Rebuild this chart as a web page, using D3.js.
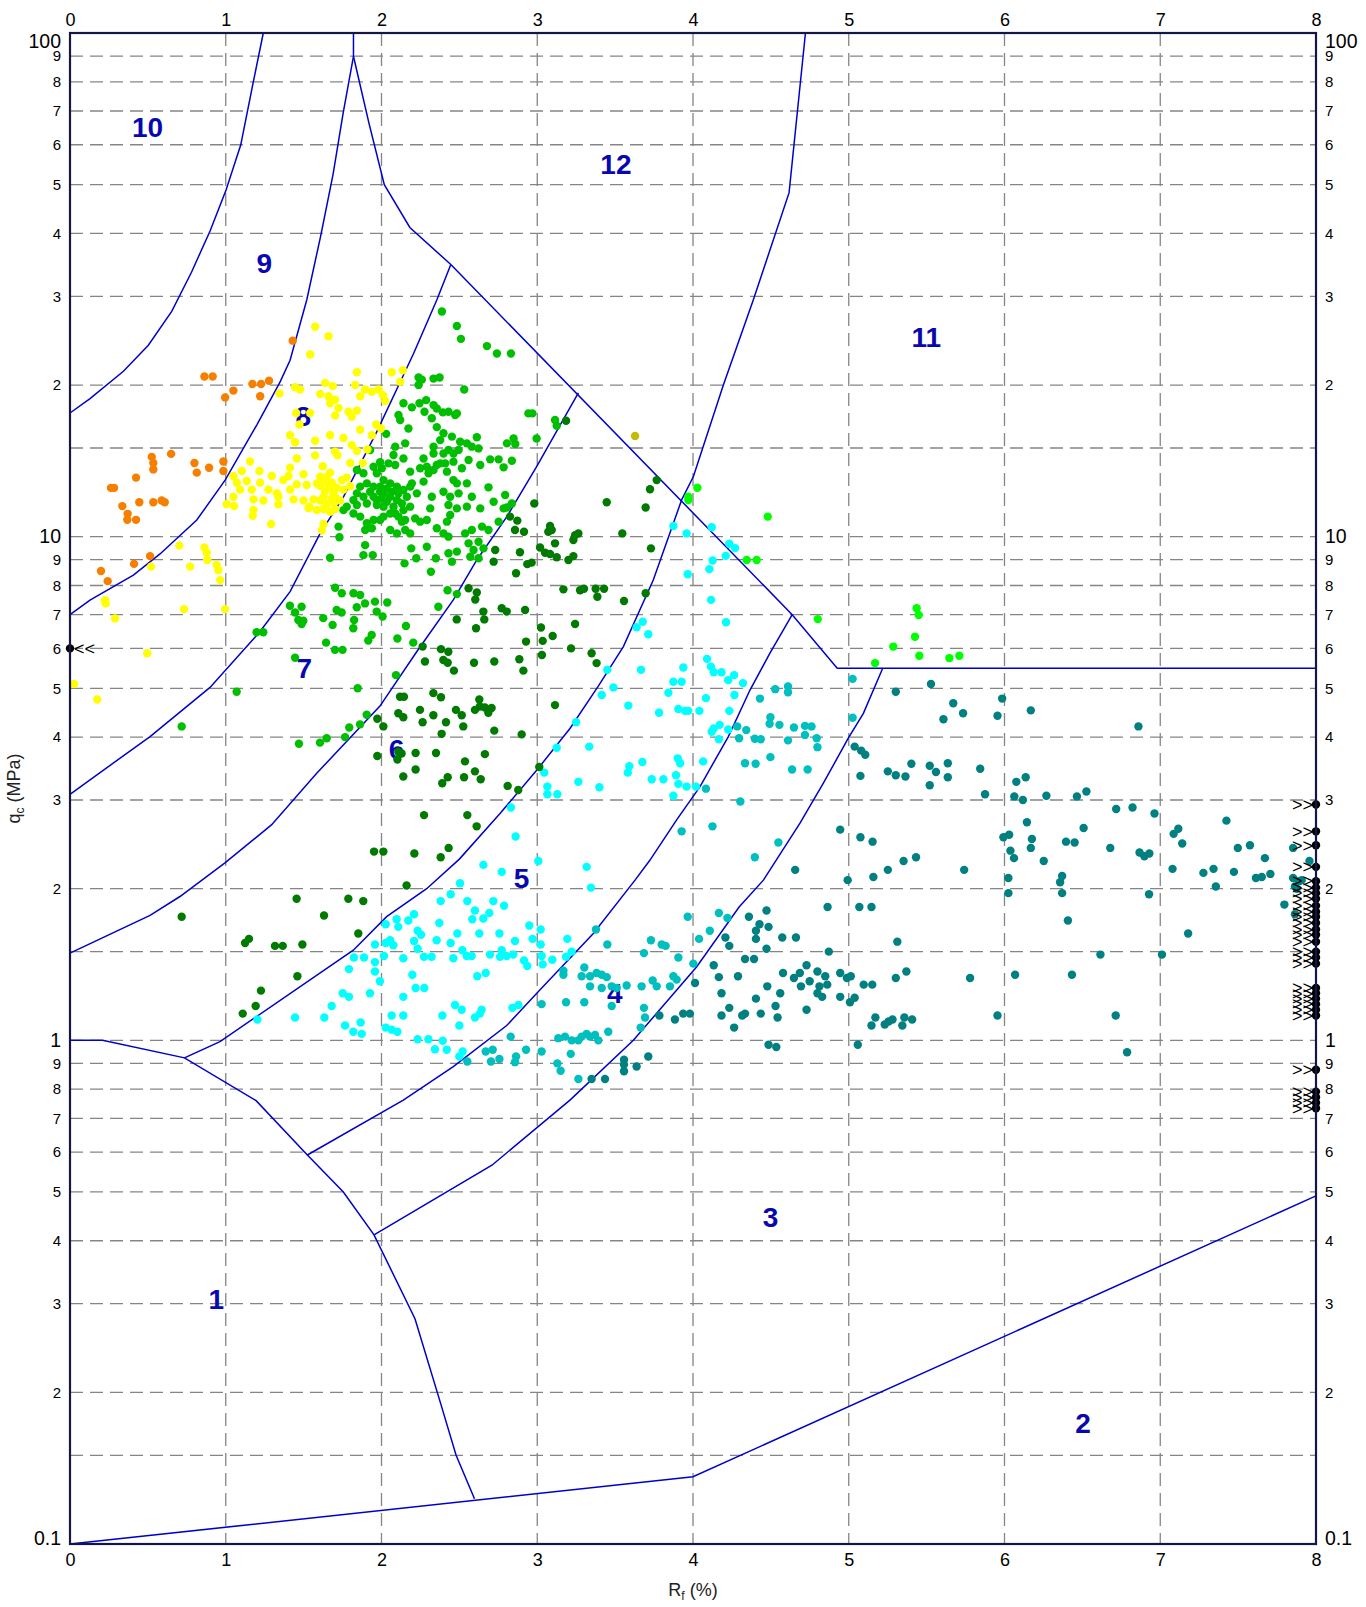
<!DOCTYPE html>
<html>
<head>
<meta charset="utf-8">
<script src="https://cdn.jsdelivr.net/npm/d3@7"></script>
<style>
  body { margin: 0; background: #fff; }
  svg { display: block; }
  text { font-family: "Liberation Sans", Arial, sans-serif; }
</style>
</head>
<body>
<svg id="chart" width="1366" height="1607"></svg>
<script>
// ---- axes ----
const rfTicks = [0, 1, 2, 3, 4, 5, 6, 7, 8];
const rfGrid = [1, 2, 3, 4, 5, 6, 7];
const qcTicks = [0.1, 0.2, 0.3, 0.4, 0.5, 0.6, 0.7, 0.8, 0.9,
                 1, 2, 3, 4, 5, 6, 7, 8, 9,
                 10, 20, 30, 40, 50, 60, 70, 80, 90, 100];
const qcGrid = [0.15, 0.2, 0.3, 0.4, 0.5, 0.6, 0.7, 0.8, 0.9,
                1, 1.5, 2, 3, 4, 5, 6, 7, 8, 9,
                10, 15, 20, 30, 40, 50, 60, 70, 80, 90];

// ---- zone boundaries [Rf %, qc MPa] ----
const zone10Edge = [[0,17.6],[0.1285,18.8],[0.343,21.3],[0.503,24.0],[0.653,28.0],[0.78,33.5],[0.9,40.5],[1.002,48.8],[1.096,59.9],[1.177,80.0],[1.241,100]];
const zone9Edge = [[0,7.0],[0.1285,7.48],[0.407,8.39],[0.578,9.24],[0.814,10.79],[0.996,12.95],[1.199,16.66],[1.349,20.3],[1.413,22.4],[1.52,29.5],[1.61,39.6],[1.689,52.4],[1.754,69.4],[1.82,89.9]];
const zoneTopStub = [[1.82,89.9],[1.82,100]];
const zone12Lower = [[1.82,89.9],[1.919,66.3],[2.018,50.0],[2.182,41.1],[2.445,34.7]];
const zone8Edge = [[0,3.08],[0.514,4.01],[0.899,5.02],[1.22,6.48],[1.413,7.78],[1.606,10.15],[1.756,12.0],[1.97,16.16],[2.206,23.1],[2.355,29.5],[2.445,34.7]];
const zone7Edge = [[0,1.49],[0.514,1.77],[0.706,1.93],[0.995,2.25],[1.295,2.68],[1.584,3.39],[1.99,4.61],[2.226,5.91],[2.461,7.49],[2.612,8.99],[2.805,10.96],[2.996,13.77],[3.264,19.3]];
const zone12Diagonal = [[2.445,34.7],[4.637,7.0],[4.926,5.48],[8,5.48]];
const zone6Edge = [[0.735,0.923],[0.963,0.994],[1.819,1.51],[2.033,1.76],[2.29,2.0],[2.5,2.29],[2.761,2.82],[3.007,3.47],[3.21,4.16],[3.392,5.05],[3.553,6.05],[3.745,8.2],[3.927,11.83],[4.002,13.15],[4.195,20.0],[4.387,29.5],[4.617,48.2],[4.722,100]];
const zone5Edge = [[4.637,7.0],[4.494,5.87],[4.366,4.96],[4.227,4.01],[4.045,3.19],[3.895,2.74],[3.724,2.28],[3.628,2.08],[3.36,1.63],[3.018,1.26],[2.804,1.07],[2.461,0.887],[2.14,0.761],[1.524,0.592]];
const zone4Edge = [[5.218,5.48],[5.094,4.46],[4.997,3.98],[4.837,3.24],[4.687,2.7],[4.452,2.08],[4.296,1.84],[4.024,1.4],[3.617,1.0],[3.21,0.761],[2.709,0.565],[1.952,0.411]];
const zone1Edge = [[0,1.0],[0.209,1.0],[0.735,0.923],[1.195,0.759],[1.524,0.592],[1.755,0.5],[1.952,0.411],[2.215,0.28],[2.38,0.19],[2.479,0.15],[2.597,0.123]];
const zone2Edge = [[0,0.1],[4.0,0.136],[8,0.491]];

const zoneNames = ["10","9","12","11","8","7","6","5","4","3","1","2"];
const zoneAnchors = [[0.498,65.0],[1.248,34.9],[3.505,55.0],[5.498,24.9],[1.498,17.4],[1.505,5.48],[2.097,3.79],[2.899,2.10],[3.498,1.24],[4.498,0.447],[0.939,0.307],[6.504,0.174]];

// ---- measured points [Rf %, qc MPa] ----
const orangePts = [[1.43,24.5],[0.863,20.8],[0.916,20.8],[1.171,20.1],[1.227,20.1],[1.278,20.4],[1.049,19.5],[0.996,18.9],[1.221,19.0],[0.525,14.4],[0.649,14.6],[0.535,14.0],[0.535,13.6],[0.799,14.0],[0.893,13.7],[0.985,14.1],[0.985,13.5],[0.814,13.4],[0.424,13.1],[0.263,12.5],[0.283,12.5],[0.445,11.7],[0.535,11.7],[0.589,11.8],[0.608,11.7],[0.336,11.5],[0.37,11.1],[0.368,10.8],[0.424,10.8],[0.514,9.15],[0.411,8.83],[0.199,8.55],[0.242,8.16]];

const yellowPts = [[1.574,26.1],[1.66,25.0],[1.542,23.0],[1.842,21.2],[2.066,21.2],[2.137,21.4],[2.12,20.3],[1.638,20.2],[1.687,19.9],[1.831,20.0],[1.345,19.25],[1.445,19.8],[1.477,19.6],[1.606,19.2],[1.66,19.0],[1.702,18.7],[1.863,19.0],[1.895,19.6],[1.938,19.4],[1.981,19.6],[2.009,19.1],[2.024,18.6],[1.67,18.4],[1.724,18.0],[1.788,17.7],[1.842,17.8],[1.809,17.3],[1.702,17.4],[1.452,17.6],[1.542,17.6],[1.473,16.7],[1.413,15.9],[1.445,15.4],[1.574,15.5],[1.67,15.9],[1.756,15.7],[1.863,16.3],[1.966,16.7],[1.938,15.9],[1.996,16.4],[1.809,15.2],[1.842,14.8],[1.91,14.9],[1.702,14.75],[1.717,14.5],[1.574,14.5],[1.456,14.3],[1.156,14.1],[1.799,14.0],[1.88,14.0],[1.623,13.8],[1.67,13.4],[1.628,12.95],[1.66,12.66],[1.606,12.6],[1.681,12.8],[1.713,12.5],[1.745,12.95],[1.777,13.1],[1.638,12.3],[1.692,12.2],[1.756,12.4],[1.799,12.6],[1.499,13.3],[1.52,12.66],[1.413,13.7],[1.403,13.2],[1.37,12.95],[1.296,13.2],[1.216,13.5],[1.103,13.5],[1.049,13.2],[1.071,12.8],[1.135,12.9],[1.221,12.8],[1.092,12.4],[1.167,12.4],[1.274,12.4],[1.328,12.2],[1.413,12.4],[1.456,12.7],[1.563,11.86],[1.606,11.8],[1.649,11.6],[1.692,11.7],[1.734,11.8],[1.531,11.4],[1.585,11.3],[1.628,11.35],[1.67,11.2],[1.702,11.35],[1.713,11.9],[1.338,12.0],[1.242,11.8],[1.178,11.86],[1.049,12.0],[1.006,11.6],[1.054,11.5],[1.338,11.6],[1.435,11.86],[1.499,11.8],[1.178,11.3],[1.173,11.0],[1.291,10.6],[1.628,10.6],[1.617,10.3],[1.537,11.45],[1.606,13.15],[1.649,13.15],[1.67,12.57],[1.585,12.76],[1.628,12.0],[1.681,11.9],[0.702,9.6],[0.863,9.52],[0.878,9.29],[0.882,8.99],[0.942,8.79],[0.953,8.58],[0.964,8.2],[0.771,8.72],[0.52,8.72],[0.732,7.18],[0.996,7.18],[0.225,7.48],[0.229,7.37],[0.289,6.88],[0.496,5.87],[0.026,5.1],[0.175,4.75]];

const greenPts = [[2.388,28.0],[2.484,26.2],[2.51,24.7],[2.677,23.9],[2.741,23.1],[2.831,23.1],[2.531,19.6],[2.238,20.7],[2.259,20.5],[2.334,20.6],[2.373,20.7],[2.238,20.0],[2.141,18.4],[2.195,18.06],[2.244,18.4],[2.287,18.67],[2.276,17.7],[2.334,18.25],[2.355,17.97],[2.394,17.65],[2.43,17.7],[2.473,17.44],[2.484,17.57],[2.109,17.44],[2.12,17.05],[2.173,16.4],[2.323,17.18],[2.355,16.5],[2.398,16.04],[2.377,15.55],[2.452,15.8],[2.505,15.43],[2.548,15.32],[2.612,15.75],[2.58,15.09],[2.623,14.97],[2.334,15.09],[2.43,14.86],[2.462,14.63],[2.495,14.86],[2.805,15.32],[2.848,15.67],[2.859,15.27],[2.03,16.0],[2.088,15.09],[2.152,15.32],[2.698,14.24],[2.752,14.24],[2.837,14.15],[2.784,13.73],[2.634,13.88],[2.559,14.2],[2.462,14.09],[2.409,13.98],[2.355,13.88],[2.291,13.77],[2.248,13.67],[2.184,13.46],[2.141,14.3],[2.077,14.53],[2.045,13.98],[2.088,13.88],[1.991,14.05],[1.927,14.86],
[1.842,13.56],[1.884,13.36],[1.949,13.77],[2.002,13.67],[1.97,13.36],[2.013,12.95],[2.056,12.76],[2.099,12.57],[2.141,12.38],[1.991,12.57],[1.949,12.57],[1.906,12.76],[1.863,12.57],[1.842,12.19],[1.82,11.82],[1.884,12.0],[1.949,12.0],[2.013,12.19],[2.056,12.0],[2.099,11.82],[2.163,12.0],[2.184,12.57],[2.227,12.19],[2.195,12.76],[2.184,11.47],[2.141,11.29],[2.077,11.47],[2.013,11.47],[1.97,11.56],[1.906,11.64],[1.842,11.56],[1.777,11.47],[1.756,11.29],[1.82,11.12],[1.863,10.96],[1.906,10.63],[1.949,10.79],[2.013,10.96],[2.056,11.12],[2.109,10.96],[2.152,10.79],[2.216,10.87],[2.248,10.71],[2.291,10.79],[2.355,10.39],[2.398,10.15],[2.43,10.0],[2.056,10.31],[2.099,10.15],[2.152,10.31],[2.184,10.15],[2.131,10.71],[1.991,10.79],[1.938,10.39],[1.895,10.31],[1.724,10.47],[1.73,9.97],[1.67,9.08],[1.895,9.62],[1.884,9.19],[1.944,9.19],[2.191,9.48],[2.223,9.06],[2.148,8.85],[2.317,8.52],[2.349,9.06],[2.43,9.27],[2.484,9.34],[2.452,8.92],[2.559,9.7],[2.591,9.41],[2.623,9.77],[2.57,9.12],[2.623,9.06],[2.655,9.48],[2.537,10.15],[2.58,10.31],[2.645,10.47],[2.687,10.31],[2.752,10.71],[2.42,10.71],[2.441,11.04],[2.43,11.56],[2.484,11.38],[2.548,11.47],[2.634,11.38],[2.72,11.73],[2.794,12.1],[2.837,11.64],[2.784,11.38],[2.58,12.0],[2.495,12.19],[2.441,12.0],[2.398,12.28],[2.323,12.0],[2.313,11.38],[2.27,12.86],[2.302,13.36],[2.334,13.56],[2.377,13.98],[2.42,13.46],[2.462,12.95],[2.484,12.76],[2.548,12.76],[2.687,12.53],[2.805,11.43],[2.291,9.55],[2.334,14.63],[2.27,14.3],[2.398,14.63],[2.516,13.67],
[1.991,12.28],[2.034,12.47],[2.066,12.28],[2.109,12.19],[2.131,11.64],[2.034,11.73],[1.97,11.82],[1.927,12.28],[2.002,11.91],[2.088,11.12],
[1.702,7.92],[1.745,7.72],[1.82,7.72],[1.863,7.66],[2.424,7.83],[2.484,7.69],
[2.943,17.57],[2.969,17.57],[3.114,17.05],[3.125,16.61],[2.996,15.67],
[1.412,7.29],[1.445,7.07],[1.466,6.83],[1.498,6.81],[1.487,6.71],[1.487,7.26],[1.626,6.89],[1.686,6.68],[1.712,7.15],[1.744,7.07],[1.841,7.24],[1.824,6.83],[1.819,6.58],[1.894,7.37],[1.958,7.43],[1.969,7.1],[2.007,6.94],[2.037,7.4],[1.937,6.38],[1.915,6.22],[1.644,6.16],[1.701,5.96],[1.75,5.96],[2.102,6.28],[2.157,6.65],[2.204,6.16],[2.365,7.26],[1.445,5.75],[1.198,6.46],[1.241,6.46],[1.07,4.92],[0.717,4.2],[1.847,5.0],[2.093,5.31],[1.905,4.43],[1.862,4.24],[1.793,4.18],[1.766,4.0],[1.648,3.98],[1.605,3.9],[1.47,3.88]];

const darkGreenPts = [[3.185,16.99],[3.767,12.95],[3.724,12.42],[3.696,11.43],[3.446,11.7],[2.981,11.64],[3.546,10.15],[3.73,9.48],[3.082,10.5],[3.093,10.31],[3.071,10.23],[2.915,10.23],[2.825,10.96],[2.872,10.76],[2.857,10.31],[3.243,10.07],[3.264,10.15],[3.232,9.85],[3.114,9.7],[3.018,9.52],[3.05,9.29],[3.082,9.24],[3.125,9.1],[3.2,8.99],[3.232,9.15],[2.889,9.31],[2.936,8.82],[2.964,8.88],[2.864,8.46],[3.168,7.86],[3.275,7.83],[3.3,7.88],[3.375,7.88],[3.429,7.88],[3.386,7.6],[3.557,7.45],[3.696,7.72],[3.243,6.71],[3.024,6.6],[2.922,7.15],[2.804,7.1],[2.772,7.21],
[2.73,9.41],[2.72,8.92],[2.559,7.9],[2.612,7.75],[2.602,7.5],
[2.483,6.85],[2.607,6.58],[2.654,7.1],[2.66,6.85],[2.264,6.05],[2.382,5.98],[2.429,5.91],[2.279,5.65],[2.397,5.69],[2.425,5.62],[2.465,5.42],[2.594,5.62],[2.724,5.65],[2.885,5.71],[2.911,5.42],[2.928,6.19],[3.035,6.21],[3.099,6.35],[3.03,5.82],[3.217,6.0],[3.349,5.87],[3.381,5.61],[2.119,4.81],[2.144,4.81],[2.333,4.89],[2.382,4.8],[2.628,4.75],[2.632,4.6],[2.478,4.53],[2.515,4.42],[2.6,4.53],[2.664,4.58],[2.707,4.57],[2.686,4.47],[2.247,4.53],[2.333,4.42],[2.264,4.28],[2.414,4.28],[2.108,4.46],[2.14,4.38],[1.973,4.35],[2.012,4.2],[2.525,4.2],[2.386,4.06],[2.724,4.12],[2.9,4.05],[3.114,4.63],[1.973,3.67],[2.108,3.74],[2.129,3.71],[2.102,3.61],[2.219,3.72],[2.35,3.72],[2.536,3.58],[2.664,3.7],[3.013,3.49],[2.219,3.45],[2.14,3.34],[2.425,3.33],[2.39,3.24],[2.53,3.33],[2.6,3.42],[2.637,3.3],[2.81,3.2],[2.878,3.14],[2.273,2.8],[2.551,2.8],[2.611,2.66],[1.952,2.37],[2.012,2.37],[2.211,2.35],[2.38,2.31],[2.431,2.41],[0.717,1.76],
[2.161,2.03],[1.455,1.91],[1.787,1.91],[1.883,1.89],[1.631,1.77],[1.851,1.63],[1.124,1.56],[1.149,1.59],[1.316,1.54],[1.366,1.54],[1.492,1.55],[1.46,1.34],[1.226,1.255],[1.192,1.17],[1.109,1.13]];

const limePts = [[4.028,12.51],[3.97,12.0],[3.97,11.82],[4.48,10.96],[4.345,8.99],[4.409,8.99],[4.801,6.86],[5.436,7.21],[5.449,6.99],[5.425,6.33],[5.286,6.05],[5.453,5.8],[5.646,5.74],[5.71,5.8],[5.169,5.61]];

const olivePts = [[3.628,15.85]];

const cyanPts = [[3.249,4.28],[3.125,3.81],[3.334,3.83],[3.045,3.4],[3.065,3.19],[3.065,3.08],[3.129,3.08],[3.264,3.26],[2.831,2.9],[2.861,2.54],[3.399,3.18],
[3.874,10.5],[3.959,10.15],[3.966,8.42],[3.677,6.78],[3.638,6.61],[3.713,6.4],[3.45,5.44],[3.489,5.02],[3.414,4.85],[3.666,5.44],[3.938,5.5],[3.874,5.15],[3.927,5.15],[3.842,4.9],[3.585,4.62],[3.782,4.47],[3.906,4.55],[3.949,4.51],[3.97,4.51],[4.041,4.51],[3.591,3.5],[3.581,3.4],[3.675,3.57],[3.735,3.3],[3.81,3.3],[3.891,3.36],[3.902,3.63],[3.917,3.55],[3.906,3.23],[3.959,3.19],[3.874,3.06],[4.019,3.19],[4.12,10.44],[4.233,9.68],[4.27,9.49],[4.21,9.16],[4.126,8.97],[4.105,8.62],[4.116,7.49],[4.212,6.76],
[2.654,2.23],[2.772,2.16],[3.007,2.27],[3.317,2.21],[3.345,2.01],[2.504,2.05],[2.444,1.95],[2.38,1.89],[2.551,1.89],[2.718,1.89],[2.787,1.85],[2.6,1.81],[2.583,1.74],[2.654,1.745],[2.692,1.79],[2.209,1.78],[2.172,1.73],[2.097,1.74],[2.108,1.68],[2.027,1.7],[2.371,1.71],[2.232,1.65],[2.254,1.62],[2.487,1.63],[2.628,1.63],[2.757,1.63],[2.949,1.69],[3.022,1.66],[2.354,1.58],[2.444,1.56],[2.519,1.51],[2.547,1.47],[2.579,1.47],[2.461,1.455],[2.273,1.465],[2.322,1.465],[2.209,1.575],[2.232,1.52],[2.055,1.58],[2.076,1.545],[2.027,1.56],[1.958,1.55],[2.016,1.47],[2.14,1.455],[2.697,1.48],[2.772,1.51],[2.761,1.465],[2.804,1.47],[2.846,1.48],[2.857,1.575],[2.97,1.59],[3.022,1.55],[2.915,1.44],[2.936,1.405],[3.028,1.47],[3.035,1.415],[3.097,1.445],[3.185,1.465],[3.193,1.59],[3.221,1.5],[1.823,1.46],[1.888,1.46],[1.791,1.385],[1.958,1.43],[1.958,1.37],[1.99,1.31],[2.198,1.35],[2.615,1.34],[2.669,1.36],[2.219,1.27],[2.275,1.27],[2.14,1.22],[1.926,1.24],[1.751,1.24],[1.791,1.22],[1.68,1.17],[1.633,1.11],[1.445,1.11],[1.203,1.1],[1.766,1.07],[1.819,1.04],[1.873,1.03],[1.866,1.085],[2.027,1.06],[2.065,1.05],[2.102,1.04],[2.065,1.12],[2.14,1.12],[2.391,1.12],[2.472,1.175],[2.515,1.15],[2.643,1.15],[2.632,1.13],[2.6,1.11],[2.5,1.07],[2.84,1.16],[2.879,1.175],[2.232,1.005],[2.301,1.005],[2.393,0.998],[2.343,0.96],[2.419,0.958],[2.5,0.929],[2.521,0.95],
[4.09,5.72],[4.115,5.52],[4.133,5.38],[4.183,5.38],[4.226,5.19],[4.264,5.31],[4.321,5.12],[4.266,4.85],[4.083,4.78],[4.233,4.51],[4.133,4.16],[4.171,4.23],[4.226,4.14],[4.12,4.1],[4.166,3.96],[4.065,3.58]];

const tealPts = [[3.927,2.6],
[2.551,0.908],[2.669,0.95],[2.714,0.958],[2.757,0.918],[2.703,0.908],[2.864,0.929],[2.857,0.905],[2.928,0.958],[3.028,0.95],[2.829,1.017],[3.028,1.18],[3.185,1.19],[3.302,1.19],[3.168,1.375],[3.168,1.35],[3.302,1.395],[3.285,1.34],[3.339,1.34],[3.381,1.36],[3.414,1.35],[3.446,1.335],[3.478,1.28],[3.339,1.28],[3.414,1.27],[3.51,1.27],[3.574,1.285],[3.67,1.28],[3.741,1.315],[3.767,1.28],[3.852,1.28],[3.874,1.34],[3.895,1.32],[3.906,1.46],[4.002,1.42],[3.377,1.66],[3.45,1.55],[3.685,1.49],[3.73,1.58],[3.799,1.55],[3.824,1.54],[3.966,1.76],[4.039,1.59],[3.478,1.17],[3.685,1.16],[3.692,1.11],[3.664,1.06],[3.456,1.04],[3.135,1.01],[3.178,1.017],[3.221,1.0],[3.264,1.0],[3.285,1.017],[3.317,1.03],[3.339,1.017],[3.371,1.025],[3.392,1.0],[3.129,0.9],[3.15,0.87],[3.215,0.94],[3.264,0.838],
[5.025,5.22],[5.025,4.37],[4.528,4.98],[4.61,5.04],[4.61,4.91],[4.43,4.77],[4.497,4.38],[4.492,4.25],[4.555,4.23],[4.648,4.18],[4.719,4.21],[4.761,4.2],[4.719,4.04],[4.794,3.98],[4.799,3.82],[4.61,3.94],[4.435,3.96],[4.397,3.97],[4.342,4.13],[4.284,4.2],[4.296,3.98],[4.497,3.65],[4.334,3.55],[4.402,3.54],[4.636,3.45],[4.736,3.45],[4.083,3.16],[4.304,2.98],[4.125,2.66],[4.548,2.47],[4.397,2.31],[4.166,1.79],[4.221,1.75],[4.108,1.65]];

const darkTealPts = [[3.349,0.838],[3.435,0.838],[3.557,0.915],[3.557,0.895],[3.557,0.868],[3.638,0.887],[3.713,0.929],[3.784,1.12],[3.884,1.1],[3.937,1.13],[3.98,1.13],[4.013,1.3],
[5.528,5.1],[5.302,4.92],[5.985,4.77],[5.671,4.67],[5.734,4.46],[5.608,4.34],[5.955,4.41],[6.169,4.52],[6.86,4.2],[5.038,3.83],[5.08,3.76],[5.106,3.69],[5.075,3.35],[5.251,3.42],[5.302,3.36],[5.364,3.34],[5.402,3.54],[5.52,3.51],[5.56,3.41],[5.636,3.55],[5.636,3.33],[5.52,3.21],[5.844,3.46],[5.875,3.08],[6.076,3.26],[6.136,3.33],[6.063,3.05],[6.118,3.0],[6.269,3.06],[6.465,3.05],[6.526,3.12],[6.717,2.88],[6.822,2.9],[6.963,2.82],[6.144,2.71],[6.508,2.64],[7.425,2.73],[7.116,2.63],[7.086,2.57],[7.141,2.46],[4.945,2.62],[5.075,2.53],[5.153,2.48],[5.993,2.53],[6.03,2.56],[6.176,2.51],[6.169,2.41],[6.038,2.38],[6.061,2.3],[6.252,2.27],[6.395,2.48],[6.45,2.47],[6.679,2.41],[6.867,2.36],[6.898,2.32],[6.93,2.35],[7.498,2.41],[7.576,2.44],[7.672,2.3],[7.079,2.19],[7.277,2.15],[7.342,2.19],[7.473,2.16],[7.614,2.1],[7.652,2.11],[7.707,2.14],[7.357,2.02],[6.928,1.95],[6.025,2.1],[6.025,1.96],[6.37,2.12],[6.357,2.06],[6.37,1.96],[5.741,2.18],[5.432,2.31],[5.352,2.27],[5.251,2.18],[5.158,2.11],[4.656,2.18],[4.993,2.08],[6.407,1.73],[7.179,1.63],[6.616,1.48],[7.011,1.48],[6.068,1.35],[6.433,1.35],[5.779,1.33],[6.714,1.12],[5.955,1.12],[6.787,0.947],[4.864,1.84],[5.068,1.84],[5.146,1.84],[5.312,1.57],[4.872,1.5],
[4.359,1.76],[4.472,1.81],[4.427,1.7],[4.485,1.68],[4.404,1.65],[4.404,1.59],[4.573,1.6],[4.661,1.6],[4.472,1.52],[4.208,1.6],[4.233,1.54],[4.334,1.45],[4.392,1.45],[4.133,1.41],[4.166,1.335],[4.289,1.34],[4.578,1.36],[4.648,1.33],[4.686,1.36],[4.729,1.41],[4.799,1.37],[4.849,1.34],[4.749,1.31],[4.693,1.28],[4.812,1.28],[4.862,1.29],[4.799,1.24],[4.829,1.22],[4.945,1.36],[5.013,1.34],[4.988,1.33],[5.096,1.29],[5.151,1.29],[5.302,1.33],[5.37,1.37],[4.945,1.22],[5.008,1.19],[5.038,1.215],[4.477,1.28],[4.56,1.24],[4.404,1.21],[4.183,1.24],[4.183,1.12],[4.233,1.16],[4.316,1.12],[4.334,1.13],[4.435,1.13],[4.53,1.17],[4.543,1.11],[4.729,1.15],[4.264,1.06],[5.171,1.11],[5.146,1.07],[5.231,1.075],[5.256,1.09],[5.281,1.1],[5.357,1.11],[5.407,1.1],[5.344,1.07],[4.485,0.98],[4.535,0.97],[5.058,0.98],
[7.853,2.41],[7.958,2.27],[7.853,2.1],[7.89,2.07],[7.865,2.02],[7.797,1.86],[7.865,1.78],[7.908,2.08],[7.876,2.0]];

// readings beyond the Rf range, pinned to the frame edges
const beyondRightQc = [2.94,2.6,2.44,2.21,2.07,2.01,1.96,1.91,1.85,1.8,1.76,1.71,1.66,1.62,1.57,1.5,1.46,1.42,1.27,1.24,1.21,1.18,1.15,1.12,0.874,0.791,0.771,0.752,0.733];
const beyondLeftQc = [6.0];

(function draw() {
  const svg = d3.select("#chart");
  const pLeft = 70, pRight = 1316, pTop = 33, pBottom = 1544;
  const x = d3.scaleLinear().domain([0, 8]).range([pLeft, pRight]);
  const y = d3.scaleLog().domain([0.1, 100]).range([pBottom, pTop]);
  const dotR = 4.2;

  // dashed grid
  const grid = svg.append("g")
    .attr("stroke", "#858585").attr("stroke-width", 1.3)
    .attr("stroke-dasharray", "13,7").attr("fill", "none");
  grid.selectAll("line.gv").data(rfGrid).join("line").attr("class", "gv")
    .attr("x1", d => x(d)).attr("x2", d => x(d)).attr("y1", pTop).attr("y2", pBottom);
  grid.selectAll("line.gh").data(qcGrid).join("line").attr("class", "gh")
    .attr("y1", d => y(d)).attr("y2", d => y(d)).attr("x1", pLeft).attr("x2", pRight);

  // zone boundaries
  const line = d3.line().x(d => x(d[0])).y(d => y(d[1]));
  const boundaries = [zone10Edge, zone9Edge, zoneTopStub, zone12Lower, zone8Edge, zone7Edge,
    zone12Diagonal, zone6Edge, zone5Edge, zone4Edge, zone1Edge, zone2Edge];
  svg.append("g").selectAll("path").data(boundaries).join("path")
    .attr("d", line).attr("fill", "none").attr("stroke", "#0000cc").attr("stroke-width", 1.5);

  // zone numbers
  svg.append("g").selectAll("text").data(zoneNames).join("text")
    .attr("x", (d, i) => x(zoneAnchors[i][0]))
    .attr("y", (d, i) => y(zoneAnchors[i][1]))
    .attr("dy", "0.36em").attr("text-anchor", "middle")
    .attr("font-size", 28).attr("font-weight", "bold").attr("fill", "#0808b0")
    .text(d => d);

  // data points
  const groups = [
    [darkTealPts, "#008080"],
    [tealPts, "#00bfbf"],
    [cyanPts, "#00ffff"],
    [darkGreenPts, "#007a00"],
    [greenPts, "#00bf00"],
    [yellowPts, "#ffff00"],
    [orangePts, "#f77f00"],
    [limePts, "#00ff00"],
    [olivePts, "#c4bc00"]
  ];
  const pts = svg.append("g");
  groups.forEach(([data, color]) => {
    pts.append("g").attr("fill", color).selectAll("circle").data(data).join("circle")
      .attr("cx", d => x(d[0])).attr("cy", d => y(d[1])).attr("r", dotR);
  });

  // out-of-range readings
  const edge = svg.append("g");
  edge.selectAll("text.r").data(beyondRightQc).join("text").attr("class", "r")
    .attr("x", x(8) - 3).attr("y", d => y(d)).attr("dy", "0.35em")
    .attr("text-anchor", "end").attr("font-size", 18).attr("fill", "#000").text(">>");
  edge.selectAll("circle.r").data(beyondRightQc).join("circle").attr("class", "r")
    .attr("cx", x(8)).attr("cy", d => y(d)).attr("r", dotR).attr("fill", "#000");
  edge.selectAll("text.l").data(beyondLeftQc).join("text").attr("class", "l")
    .attr("x", x(0) + 4).attr("y", d => y(d)).attr("dy", "0.35em")
    .attr("text-anchor", "start").attr("font-size", 18).attr("fill", "#000").text("<<");
  edge.selectAll("circle.l").data(beyondLeftQc).join("circle").attr("class", "l")
    .attr("cx", x(0)).attr("cy", d => y(d)).attr("r", dotR).attr("fill", "#000");

  // frame
  svg.append("rect").attr("x", pLeft).attr("y", pTop)
    .attr("width", pRight - pLeft).attr("height", pBottom - pTop)
    .attr("fill", "none").attr("stroke", "#161645").attr("stroke-width", 2.2);

  // axes
  function styleAxis(g) {
    g.select(".domain").remove();
    g.selectAll("text").attr("fill", "#000").style("font-family", '"Liberation Sans", Arial, sans-serif');
  }
  svg.append("g").attr("transform", `translate(0,${pTop})`)
    .call(d3.axisTop(x).tickValues(rfTicks).tickSize(0).tickPadding(7).tickFormat(d3.format("d")))
    .call(styleAxis).selectAll("text").attr("font-size", 18);
  svg.append("g").attr("transform", `translate(0,${pBottom})`)
    .call(d3.axisBottom(x).tickValues(rfTicks).tickSize(0).tickPadding(9).tickFormat(d3.format("d")))
    .call(styleAxis).selectAll("text").attr("font-size", 18);

  const isDecade = v => Math.abs(Math.log10(v) - Math.round(Math.log10(v))) < 1e-9;
  const qcFmt = v => isDecade(v) ? String(v) : String(Math.round(v / Math.pow(10, Math.floor(Math.log10(v) + 1e-9))));
  function styleQc(g) {
    g.selectAll(".tick text")
      .attr("font-size", d => isDecade(d) ? 19.5 : 15)
      .attr("transform", d => d === 100 ? "translate(0,8)" : d === 0.1 ? "translate(0,-6)" : null);
  }
  svg.append("g").attr("transform", `translate(${pLeft},0)`)
    .call(d3.axisLeft(y).tickValues(qcTicks).tickSize(0).tickPadding(9).tickFormat(qcFmt))
    .call(styleAxis).call(styleQc);
  svg.append("g").attr("transform", `translate(${pRight},0)`)
    .call(d3.axisRight(y).tickValues(qcTicks).tickSize(0).tickPadding(9).tickFormat(qcFmt))
    .call(styleAxis).call(styleQc);

  // axis titles
  const xt = svg.append("text").attr("x", (pLeft + pRight) / 2).attr("y", 1596)
    .attr("text-anchor", "middle").attr("font-size", 18).attr("fill", "#222");
  xt.append("tspan").text("R");
  xt.append("tspan").attr("font-size", 12).attr("dy", 4).text("f");
  xt.append("tspan").attr("dy", -4).text(" (%)");

  const yt = svg.append("text")
    .attr("transform", `translate(20,${(pTop + pBottom) / 2}) rotate(-90)`)
    .attr("text-anchor", "middle").attr("font-size", 18).attr("fill", "#222");
  yt.append("tspan").text("q");
  yt.append("tspan").attr("font-size", 12).attr("dy", 4).text("c");
  yt.append("tspan").attr("dy", -4).text(" (MPa)");
})();
</script>
</body>
</html>
